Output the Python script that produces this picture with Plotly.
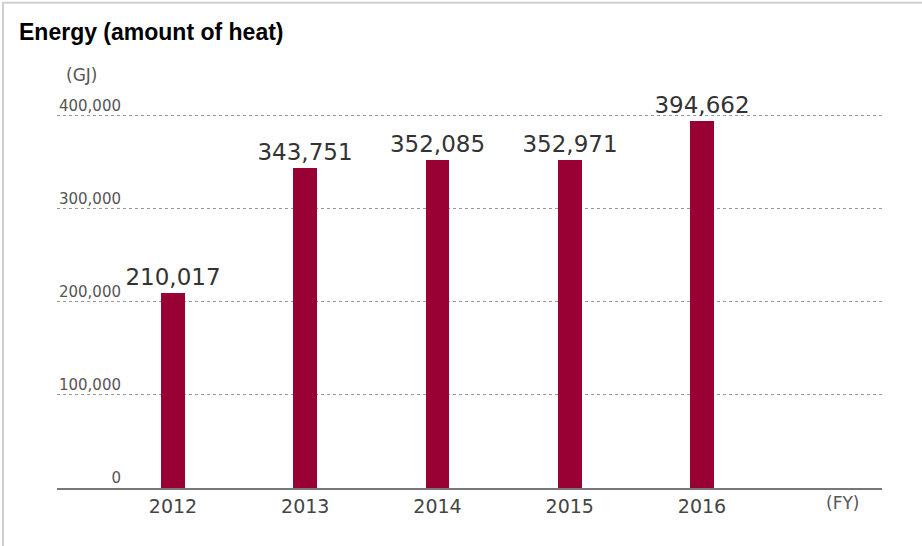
import plotly.graph_objects as go

# Fiscal years and energy use (GJ)
years = [2012, 2013, 2014, 2015, 2016]
energy_gj = [210017, 343751, 352085, 352971, 394662]
y_ticks = [0, 100000, 200000, 300000, 400000]
y_tick_text = ["0", "100,000", "200,000", "300,000", "400,000"]

W, H = 922, 546
y_top = 402000           # a little headroom so the 400,000 gridline is drawn
px_per_unit = 372 / 400000
L, R, B = 57, 40, 58
plot_h = y_top * px_per_unit
T = H - B - plot_h
plot_w = W - L - R

bar_color = "#990033"
font_main = "DejaVu Sans, Liberation Sans, Arial, sans-serif"

fig = go.Figure()
fig.add_trace(go.Bar(
    x=years,
    y=energy_gj,
    width=0.18,
    marker=dict(color=bar_color, line=dict(width=0)),
    text=[f"{v:,}" for v in energy_gj],
    textposition="outside",
    constraintext="none",
    textfont=dict(family=font_main, size=23, color="#333333"),
    cliponaxis=False,
    hoverinfo="skip",
))

fig.update_layout(
    width=W,
    height=H,
    margin=dict(l=L, r=R, t=T, b=B, pad=0),
    plot_bgcolor="white",
    paper_bgcolor="white",
    showlegend=False,
    bargap=0,
    title=dict(
        text="<b>Energy (amount of heat)</b>",
        x=19 / W,
        xref="container",
        xanchor="left",
        y=1 - 32 / H,
        yref="container",
        yanchor="middle",
        font=dict(family="Liberation Sans, Arial, sans-serif", size=23, color="#000000"),
    ),
    xaxis=dict(
        range=[2011.123, 2017.361],
        tickvals=years,
        ticktext=[str(y) for y in years],
        tickfont=dict(family=font_main, size=19, color="#444444"),
        showgrid=False,
        zeroline=False,
        showline=True,
        linecolor="#777777",
        linewidth=2,
        ticks="",
        ticklabelstandoff=0,
        fixedrange=True,
    ),
    yaxis=dict(
        range=[0, y_top],
        tickvals=y_ticks,
        ticktext=y_tick_text,
        tickfont=dict(family=font_main, size=15, color="#555555"),
        anchor="free",
        position=(121 - L) / plot_w,
        ticklabelposition="outside top",
        showgrid=True,
        gridcolor="#999999",
        griddash="dot",
        gridwidth=1,
        zeroline=False,
        showline=False,
        ticks="",
        fixedrange=True,
    ),
)

# Unit labels
fig.add_annotation(
    text="(GJ)", xref="paper", yref="paper",
    x=(81 - L) / plot_w, y=(H - B - 75) / plot_h,
    showarrow=False, xanchor="center", yanchor="middle",
    font=dict(family=font_main, size=17, color="#555555"),
)
fig.add_annotation(
    text="(FY)", xref="paper", yref="paper",
    x=(842 - L) / plot_w, y=(H - B - 503) / plot_h,
    showarrow=False, xanchor="center", yanchor="middle",
    font=dict(family=font_main, size=17, color="#555555"),
)

# Panel frame
fig.add_shape(
    type="rect", xref="paper", yref="paper",
    x0=(3 - L) / plot_w, x1=(W + 5 - L) / plot_w,
    y0=(H - B - (H + 5)) / plot_h, y1=(H - B - 3) / plot_h,
    line=dict(color="#cfcfcf", width=2),
    fillcolor="rgba(0,0,0,0)",
    layer="below",
)

fig.write_html("out.html")
